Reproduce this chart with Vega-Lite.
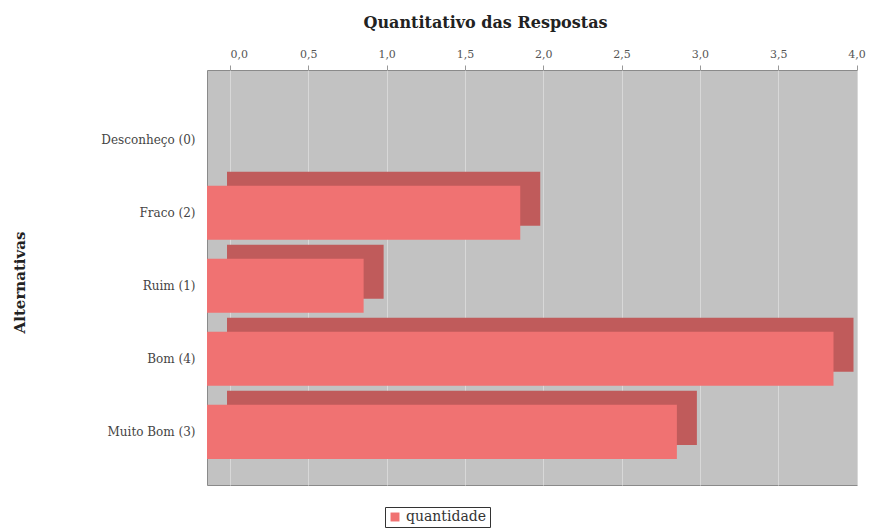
{
  "$schema": "https://vega.github.io/schema/vega-lite/v6.json",
  "autosize": "none",
  "width": 650,
  "height": 415,
  "padding": {"left": 207, "top": 70, "right": 24, "bottom": 45},
  "background": "white",
  "config": {
    "view": {"fill": "#c2c2c2", "stroke": "#8a8a8a", "strokeWidth": 1},
    "font": "DejaVu Serif"
  },
  "data": {
    "values": [
      {"alternativa": "Desconheço (0)", "quantidade": 0, "serie": "quantidade"},
      {"alternativa": "Fraco (2)", "quantidade": 2, "serie": "quantidade"},
      {"alternativa": "Ruim (1)", "quantidade": 1, "serie": "quantidade"},
      {"alternativa": "Bom (4)", "quantidade": 4, "serie": "quantidade"},
      {"alternativa": "Muito Bom (3)", "quantidade": 3, "serie": "quantidade"}
    ]
  },
  "encoding": {
    "y": {
      "field": "alternativa",
      "type": "nominal",
      "sort": null,
      "scale": {"paddingInner": 0.26, "paddingOuter": 0.47, "align": 0.62},
      "axis": {
        "title": "Alternativas",
        "titleFont": "DejaVu Serif",
        "titleFontSize": 15,
        "titleFontWeight": "bold",
        "titleColor": "#222",
        "titleX": -180,
        "titleY": 212,
        "labelFont": "DejaVu Serif",
        "labelFontSize": 12,
        "labelColor": "#444",
        "labelPadding": 12,
        "ticks": false,
        "domain": false
      }
    },
    "x": {
      "field": "quantidade",
      "type": "quantitative",
      "scale": {"domain": [0, 4.15], "nice": false, "zero": true},
      "axis": {
        "orient": "top",
        "title": "Quantitativo das Respostas",
        "titleFont": "DejaVu Serif",
        "titleFontSize": 16,
        "titleFontWeight": "bold",
        "titleColor": "#222",
        "titleX": 278,
        "titleY": -40,
        "titleAlign": "center",
        "titleBaseline": "bottom",
        "values": [0, 0.5, 1, 1.5, 2, 2.5, 3, 3.5, 4],
        "labelExpr": "replace(format(datum.value, '.1f'), '.', ',')",
        "labelFont": "DejaVu Serif",
        "labelFontSize": 11,
        "labelColor": "#555",
        "labelPadding": 6,
        "tickOffset": 23,
        "tickSize": 5,
        "tickColor": "#999",
        "grid": true,
        "gridColor": "#d8d8d8",
        "gridWidth": 1,
        "domain": false
      }
    }
  },
  "layer": [
    {
      "mark": {"type": "bar", "color": "#c05b5b", "xOffset": 20, "yOffset": -14},
      "encoding": {}
    },
    {
      "mark": {"type": "bar"},
      "encoding": {
        "color": {
          "field": "serie",
          "type": "nominal",
          "scale": {"range": ["#f07272"]},
          "legend": {
            "title": null,
            "orient": "none",
            "legendX": 178,
            "legendY": 437,
            "symbolType": "square",
            "symbolSize": 80,
            "labelFont": "DejaVu Serif",
            "labelFontSize": 14,
            "labelColor": "#333",
            "strokeColor": "#333",
            "padding": 3,
            "fillColor": "white"
          }
        }
      }
    }
  ]
}
